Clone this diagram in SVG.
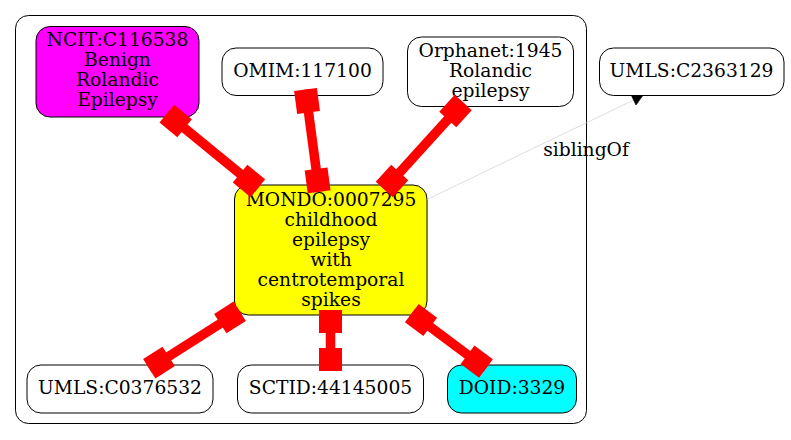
<svg xmlns="http://www.w3.org/2000/svg" width="791" height="440" viewBox="0 0 791 440">
<style>
  text { font-family: 'DejaVu Serif', serif; font-size: 18.7px; fill: #000; text-anchor: middle; }
  .node { stroke: #000; stroke-width: 1; }
  .cluster { fill: #fff; stroke: #000; stroke-width: 1; }
  .shaft { stroke: #ff0000; stroke-width: 9.5; }
  .tee { fill: #ff0000; }
  .rel { stroke: #d0d0d0; stroke-width: 0.7; fill: none; }
</style>
<rect width="791" height="440" fill="#fff"/>
<rect class="cluster" x="15.5" y="15.5" width="571" height="408" rx="13"/>

<g id="ncit" font-family="DejaVu Serif">
  <rect class="node" x="36" y="26.5" width="163" height="90.5" rx="14" fill="#ff00ff"/>
  <text x="117.5" y="46">NCIT:C116538</text>
  <text x="117.5" y="66">Benign</text>
  <text x="117.5" y="86">Rolandic</text>
  <text x="117.5" y="106">Epilepsy</text>
</g>
<g id="omim">
  <rect class="node" x="222" y="48" width="161" height="47.5" rx="14" fill="#fff"/>
  <text x="302.5" y="77">OMIM:117100</text>
</g>
<g id="orphanet">
  <rect class="node" x="407.5" y="37" width="166" height="69.5" rx="14" fill="#fff"/>
  <text x="490.5" y="57">Orphanet:1945</text>
  <text x="490.5" y="77">Rolandic</text>
  <text x="490.5" y="97">epilepsy</text>
</g>
<g id="mondo">
  <rect class="node" x="234.5" y="185" width="192.5" height="130" rx="14" fill="#ffff00"/>
  <text x="331" y="205.5">MONDO:0007295</text>
  <text x="331" y="225.5">childhood</text>
  <text x="331" y="245.5">epilepsy</text>
  <text x="331" y="265.5">with</text>
  <text x="331" y="285.5">centrotemporal</text>
  <text x="331" y="305.5">spikes</text>
</g>
<g id="umls_c0376532">
  <rect class="node" x="27" y="365" width="186" height="48" rx="14" fill="#fff"/>
  <text x="120" y="394">UMLS:C0376532</text>
</g>
<g id="sctid">
  <rect class="node" x="237.5" y="365" width="186" height="48" rx="14" fill="#fff"/>
  <text x="330.5" y="394">SCTID:44145005</text>
</g>
<g id="doid">
  <rect class="node" x="447.5" y="365" width="129" height="48" rx="14" fill="#00ffff"/>
  <text x="512" y="394">DOID:3329</text>
</g>

<g id="connectors">
  <g transform="translate(166.8,113.7) rotate(39.3)">
    <line class="shaft" x1="0" y1="0" x2="117.7" y2="0"/>
    <rect class="tee" x="0" y="-11.5" width="23" height="23"/>
    <rect class="tee" x="94.7" y="-11.5" width="23" height="23"/>
  </g>
  <g transform="translate(305.5,89.6) rotate(82.4)">
    <line class="shaft" x1="0" y1="0" x2="103" y2="0"/>
    <rect class="tee" x="0" y="-11.5" width="23" height="23"/>
    <rect class="tee" x="80" y="-11.5" width="23" height="23"/>
  </g>
  <g transform="translate(463.2,102.5) rotate(132.2)">
    <line class="shaft" x1="0" y1="0" x2="117.5" y2="0"/>
    <rect class="tee" x="0" y="-11.5" width="23" height="23"/>
    <rect class="tee" x="94.5" y="-11.5" width="23" height="23"/>
  </g>
  <g transform="translate(239.7,311.3) rotate(147.6)">
    <line class="shaft" x1="0" y1="0" x2="107.1" y2="0"/>
    <rect class="tee" x="0" y="-11.5" width="23" height="23"/>
    <rect class="tee" x="84.1" y="-11.5" width="23" height="23"/>
  </g>
  <g transform="translate(330.5,310) rotate(90)">
    <line class="shaft" x1="0" y1="0" x2="61" y2="0"/>
    <rect class="tee" x="0" y="-11.5" width="23" height="23"/>
    <rect class="tee" x="38" y="-11.5" width="23" height="23"/>
  </g>
  <g transform="translate(411.8,313.1) rotate(36.8)">
    <line class="shaft" x1="0" y1="0" x2="92.6" y2="0"/>
    <rect class="tee" x="0" y="-11.5" width="23" height="23"/>
    <rect class="tee" x="69.6" y="-11.5" width="23" height="23"/>
  </g>
  <g id="sibling">
    <line class="rel" x1="427" y1="199.5" x2="633.6" y2="100.1"/>
    <polygon points="631.3,95.2 636,105 642.6,95.8" fill="#000" stroke="#000" stroke-width="0.7"/>
    <text x="586" y="156">siblingOf</text>
  </g>
</g>

<g id="umls_c2363129">
  <rect class="node" x="599.5" y="48" width="184.5" height="47.5" rx="14" fill="#fff"/>
  <text x="691.5" y="77">UMLS:C2363129</text>
</g>
</svg>
